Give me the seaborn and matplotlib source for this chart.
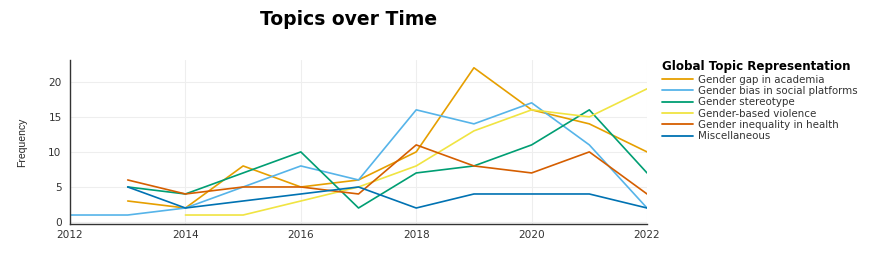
import pandas as pd
import matplotlib
matplotlib.use('Agg')
import matplotlib.pyplot as plt
import seaborn as sns

# Topic frequencies per year
years_academia = [2013, 2014, 2015, 2016, 2017, 2018, 2019, 2020, 2021, 2022]
academia = [3, 2, 8, 5, 6, 10, 22, 16, 14, 10]

years_social = [2012, 2013, 2014, 2015, 2016, 2017, 2018, 2019, 2020, 2021, 2022]
social = [1, 1, 2, 5, 8, 6, 16, 14, 17, 11, 2]

years_stereotype = [2013, 2014, 2015, 2016, 2017, 2018, 2019, 2020, 2021, 2022]
stereotype = [5, 4, 7, 10, 2, 7, 8, 11, 16, 7]

years_violence = [2014, 2015, 2016, 2017, 2018, 2019, 2020, 2021, 2022]
violence = [1, 1, 3, 5, 8, 13, 16, 15, 19]

years_health = [2013, 2014, 2015, 2016, 2017, 2018, 2019, 2020, 2021, 2022]
health = [6, 4, 5, 5, 4, 11, 8, 7, 10, 4]

years_misc = [2013, 2014, 2015, 2016, 2017, 2018, 2019, 2020, 2021, 2022]
misc = [5, 2, 3, 4, 5, 2, 4, 4, 4, 2]

topics = ['Gender gap in academia', 'Gender bias in social platforms', 'Gender stereotype',
          'Gender-based violence', 'Gender inequality in health', 'Miscellaneous']
colors = ['#E69F00', '#56B4E9', '#009E73', '#F0E442', '#D55E00', '#0072B2']

# Build long table
frames = []
for name, yrs, vals in zip(topics,
                           [years_academia, years_social, years_stereotype,
                            years_violence, years_health, years_misc],
                           [academia, social, stereotype, violence, health, misc]):
    frames.append(pd.DataFrame({'Year': yrs, 'Frequency': vals, 'Topic': name}))
df = pd.concat(frames, ignore_index=True)

sns.set_style('white')
plt.rcParams['font.family'] = ['DejaVu Sans']

fig = plt.figure(figsize=(8.72, 2.73), dpi=100)
ax = fig.add_axes([0.0803, 0.179, 0.6617, 0.601])

sns.lineplot(data=df, x='Year', y='Frequency', hue='Topic', hue_order=topics,
             palette=colors, linewidth=1.2, ax=ax)

ax.set_xlim(2012, 2022)
ax.set_ylim(-0.3, 23.1)
ax.set_xticks([2012, 2014, 2016, 2018, 2020, 2022])
ax.set_yticks([0, 5, 10, 15, 20])
ax.tick_params(axis='both', labelsize=7.6, colors='#333333', length=3, width=0.8)
ax.tick_params(axis='x', pad=1.5)
ax.tick_params(axis='y', length=0, pad=6)
ax.grid(True, color='#eeeeee', linewidth=0.8)
ax.set_axisbelow(True)
for s in ['top', 'right']:
    ax.spines[s].set_visible(False)
for s in ['left', 'bottom']:
    ax.spines[s].set_color('#333333')
    ax.spines[s].set_linewidth(1.0)

ax.set_xlabel('')
ax.set_ylabel('Frequency', fontsize=7.5, family='Liberation Sans', labelpad=15)

fig.suptitle('Topics over Time', x=0.40, y=0.965, fontsize=13.5, fontweight='bold',
             color='black')

leg = ax.legend(title='Global Topic Representation', loc='upper left',
                bbox_to_anchor=(1.01, 1.055), frameon=False, fontsize=7.4,
                title_fontproperties={'weight': 'bold', 'size': 8.6},
                handlelength=3.0, handletextpad=0.5, labelspacing=0.13,
                alignment='left')
leg.get_title().set_color('black')
for text in leg.get_texts():
    text.set_color('#333333')
for line in leg.get_lines():
    line.set_linewidth(1.3)

fig.savefig('out.png', dpi=100)
